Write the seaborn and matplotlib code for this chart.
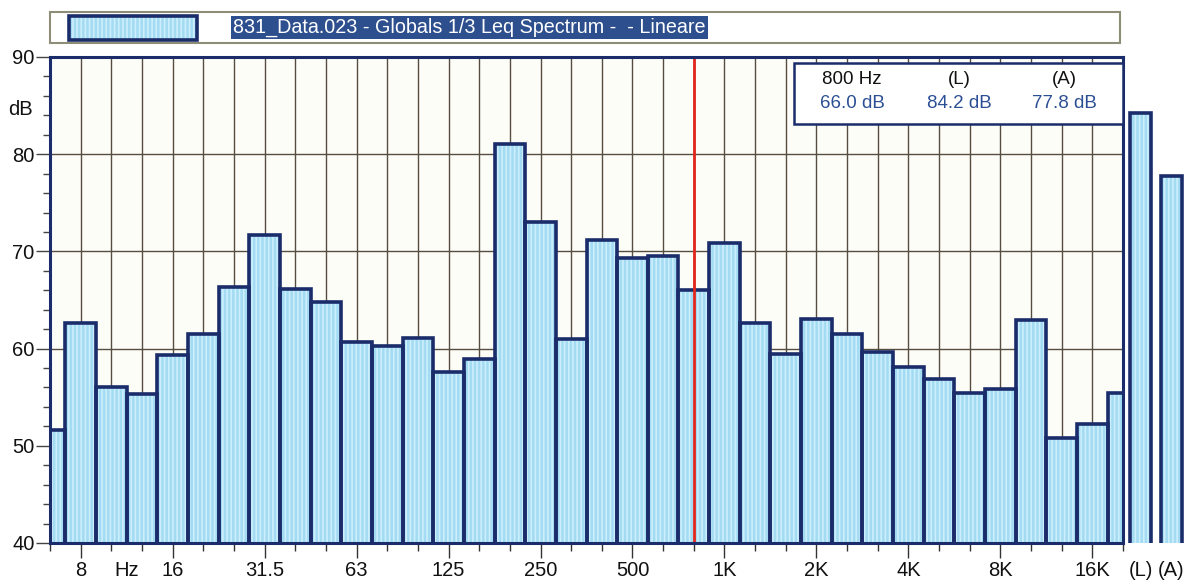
import matplotlib
matplotlib.use("Agg")
import matplotlib.pyplot as plt
import seaborn as sns
import pandas as pd
from matplotlib.patches import Rectangle
from matplotlib.ticker import MultipleLocator

# 1/3-octave band centres (Hz) and Leq levels (dB)
bands = ['6.3', '8', '10', '12.5', '16', '20', '25', '31.5', '40', '50',
         '63', '80', '100', '125', '160', '200', '250', '315', '400', '500',
         '630', '800', '1K', '1.25K', '1.6K', '2K', '2.5K', '3.15K', '4K', '5K',
         '6.3K', '8K', '10K', '12.5K', '16K', '20K']
levels = [51.6, 62.6, 56.0, 55.3, 59.3, 61.5, 66.3, 71.7, 66.1, 64.8,
          60.7, 60.3, 61.1, 57.6, 58.9, 81.0, 73.0, 61.0, 71.2, 69.3,
          69.5, 66.0, 70.9, 62.6, 59.4, 63.0, 61.5, 59.7, 58.1, 56.9,
          55.4, 55.8, 62.9, 50.8, 52.2, 55.4]
octave_labels = ['8', '16', '31.5', '63', '125', '250', '500', '1K', '2K',
                 '4K', '8K', '16K']

# overall levels
overall_names = ['(L)', '(A)']
overall_levels = [84.2, 77.8]

cursor_band = '800'
title_text = '831_Data.023 - Globals 1/3 Leq Spectrum -  - Lineare'

NAVY = '#1b2c6b'
FILL = '#a3dbf3'
STRIPE = '#cdeefb'
GRID = '#554d40'
VALUE_BLUE = '#2b4f94'
TEXT = '#111111'
LABEL_SIZE = 14.5

sns.set_theme(style='white')
plt.rcParams['font.family'] = ['Liberation Sans', 'DejaVu Sans']
plt.rcParams['hatch.linewidth'] = 1.2

W, H = 1190, 585
fig = plt.figure(figsize=(W / 100, H / 100), dpi=100, facecolor='white')


def px_axes(x0, y0, x1, y1):
    return fig.add_axes([x0 / W, 1 - y1 / H, (x1 - x0) / W, (y1 - y0) / H])


df = pd.DataFrame({'band': bands, 'level': levels})

# ---------------- main spectrum ----------------
ax = px_axes(50, 57, 1123, 543)
ax.set_facecolor('#fdfdf8')

sns.barplot(data=df, x='band', y='level', order=bands, width=1.0,
            color=FILL, saturation=1, edgecolor=STRIPE, linewidth=0,
            hatch='||||', ax=ax, zorder=2, errorbar=None)
sns.barplot(data=df, x='band', y='level', order=bands, width=1.0,
            fill=False, edgecolor=NAVY, linewidth=2.6, ax=ax, zorder=3,
            errorbar=None)

ax.set_xlim(0, len(bands) - 1)
ax.set_ylim(40, 90)
ax.set_xlabel('')
ax.set_ylabel('')

# vertical grid at every band, horizontal every 10 dB
for i in range(1, len(bands) - 1):
    ax.axvline(i, color=GRID, lw=1.0, zorder=1)
for v in range(50, 90, 10):
    ax.axhline(v, color=GRID, lw=1.0, zorder=1)

# cursor
ci = bands.index(cursor_band)
ax.axvline(ci, color='#e3261c', lw=2.0, zorder=4)

# x ticks: labelled octaves as major, the remaining bands as minor
XMAJ_LEN, XPAD = 11, 2
major_idx = [bands.index(b) for b in octave_labels]
minor_idx = [i for i in range(len(bands)) if i not in major_idx]
ax.set_xticks(major_idx)
ax.set_xticklabels(octave_labels)
ax.set_xticks(minor_idx, minor=True)
ax.tick_params(axis='x', which='major', length=XMAJ_LEN, width=1.0,
               color='#333333', direction='out', pad=XPAD,
               labelsize=LABEL_SIZE, labelcolor=TEXT, bottom=True)
ax.tick_params(axis='x', which='minor', length=6, width=1.0, color='#333333',
               direction='out', bottom=True)
ax.annotate('Hz', xy=(2.5, 0), xycoords=('data', 'axes fraction'),
            xytext=(0, -(XMAJ_LEN + XPAD)), textcoords='offset points',
            ha='center', va='top', fontsize=LABEL_SIZE, color=TEXT)

# y ticks
ax.yaxis.set_major_locator(MultipleLocator(10))
ax.yaxis.set_minor_locator(MultipleLocator(2))
ax.tick_params(axis='y', which='major', length=10, width=1.0, color='#444444',
               direction='out', pad=1, labelsize=LABEL_SIZE, labelcolor=TEXT,
               left=True)
ax.tick_params(axis='y', which='minor', length=5, width=1.0, color='#444444',
               direction='out', left=True)
ax.text(-0.028, 84.6, 'dB', transform=ax.get_yaxis_transform(),
        ha='center', va='center', fontsize=LABEL_SIZE, color=TEXT)

for s in ax.spines.values():
    s.set_visible(True)
    s.set_color(NAVY)
    s.set_linewidth(2.2)
    s.set_zorder(5)

# ---------------- overall (L) / (A) bars ----------------
ax2 = px_axes(1125, 57, 1187, 543)
ax2.set_facecolor('none')
odf = pd.DataFrame({'name': overall_names, 'level': overall_levels})
sns.barplot(data=odf, x='name', y='level', order=overall_names, width=0.68,
            color=FILL, saturation=1, edgecolor=STRIPE, linewidth=0,
            hatch='||||', ax=ax2, errorbar=None, zorder=2)
sns.barplot(data=odf, x='name', y='level', order=overall_names, width=0.68,
            fill=False, edgecolor=NAVY, linewidth=2.6, ax=ax2, errorbar=None,
            zorder=3)
ax2.set_xlim(-0.5, 1.5)
ax2.set_ylim(40, 90)
ax2.set_xlabel('')
ax2.set_ylabel('')
ax2.set_yticks([])
ax2.tick_params(axis='x', length=0, pad=XMAJ_LEN + XPAD,
                labelsize=LABEL_SIZE, labelcolor=TEXT)
for s in ax2.spines.values():
    s.set_visible(False)

# ---------------- overlay: legend strip and cursor read-out ----------------
ov = fig.add_axes([0, 0, 1, 1], zorder=10)
ov.set_xlim(0, W)
ov.set_ylim(H, 0)
ov.axis('off')
ov.patch.set_visible(False)

ov.add_patch(Rectangle((50, 12), 1070, 31, facecolor='white',
                       edgecolor='#8d8d78', lw=1.5))
ov.add_patch(Rectangle((69, 16), 128, 24, facecolor=FILL, edgecolor=STRIPE,
                       lw=0, hatch='||||'))
ov.add_patch(Rectangle((69, 16), 128, 24, facecolor='none', edgecolor=NAVY,
                       lw=2.6))
ov.text(233, 27.5, title_text, ha='left', va='center', fontsize=14.2,
        color='white',
        bbox=dict(boxstyle='square,pad=0.12', facecolor='#2d4f8e',
                  edgecolor='none'))

ov.add_patch(Rectangle((794, 63), 329, 61, facecolor='white',
                       edgecolor=NAVY, lw=1.8))
col_x = [852, 959, 1064]
heads = [f'{cursor_band} Hz'] + overall_names
vals = [levels[ci]] + overall_levels
for x, h, v in zip(col_x, heads, vals):
    ov.text(x, 80, h, ha='center', va='center', fontsize=13.5, color=TEXT)
    ov.text(x, 104, f'{v:.1f} dB', ha='center', va='center', fontsize=13.5,
            color=VALUE_BLUE)

fig.savefig('out.png', dpi=100, facecolor='white')
